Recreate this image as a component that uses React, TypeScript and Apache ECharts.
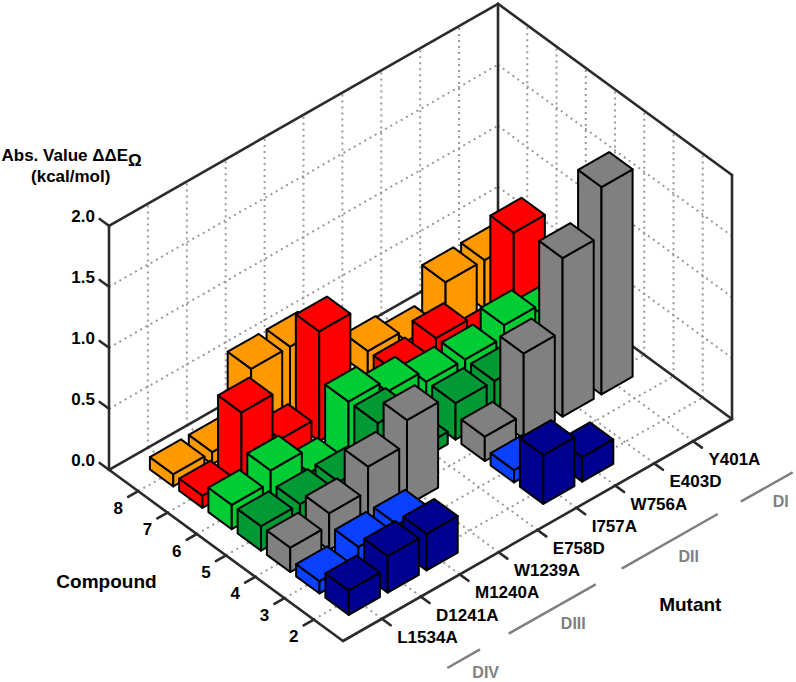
import React, { useEffect, useRef } from "react";
import * as echarts from "echarts";

const mutants = ["L1534A", "D1241A", "M1240A", "W1239A", "E758D", "I757A", "W756A", "E403D", "Y401A"];
const compounds = ["2", "3", "4", "5", "6", "7", "8"];
const zTicks = ["0.0", "0.5", "1.0", "1.5", "2.0"];
const zValues = [0, 0.5, 1, 1.5, 2];

const compound2 = [0.2, 0.3, 0.3, null, null, 0.4, 0.2, null, null];
const compound3 = [0.1, 0.2, 0.2, null, null, 0.1, null, null, null];
const compound4 = [0.2, 0.3, 0.5, 0.7, null, 0.2, 0.7, 1.3, 1.7];
const compound5 = [0.2, 0.2, 0.2, 0.5, 0.1, 0.3, 0.3, null, null];
const compound6 = [0.2, 0.3, 0.1, 0.5, 0.4, 0.3, 0.3, 0.4, 0.3];
const compound7 = [0.1, 0.6, 0.2, 0.9, null, 0.2, 0.3, 0.08, 0.8];
const compound8 = [0.1, 0.1, 0.6, 0.6, null, 0.2, 0.1, 0.4, 0.4];

const compoundValues = [compound2, compound3, compound4, compound5, compound6, compound7, compound8];
const compoundColors = ["#000090", "#0a40ff", "#808080", "#009933", "#00cc33", "#ff0000", "#ff9900"];

const domains = [
  { name: "DI", from: [740.7, 501.7], to: [792.7, 472.3], at: [780.7, 501.7] },
  { name: "DII", from: [621.7, 568.7], to: [717.7, 514], at: [688.7, 556] },
  { name: "DIII", from: [508.7, 633.7], to: [595.7, 584.3], at: [573.3, 623.3] },
  { name: "DIV", from: [447.3, 668], to: [480, 649.3], at: [485.7, 672.7] },
];

// Orthographic projection of (mutant, compound, value) to the page
const ORIGIN = [343, 641];
const MUT = [38.9, -22.2];
const CMP = [-29.25, -21.4];
const UNIT_Z = -122;
const MUT_MAX = mutants.length + 1;
const CMP_MAX = compounds.length + 1;
const BAR = 0.4;

const project = (m: number, k: number, z = 0): number[] => [
  ORIGIN[0] + m * MUT[0] + k * CMP[0],
  ORIGIN[1] + m * MUT[1] + k * CMP[1] + z * UNIT_Z,
];

const FONT = '"Liberation Sans", Arial, sans-serif';
const FRAME = "#2b2b2b";
const DOT = "#999999";

type Seg = { a: number[]; b: number[]; kind: "frame" | "dot" };

function buildSegments(): Seg[] {
  const s: Seg[] = [];
  const zTop = zValues[zValues.length - 1];
  const dot = (a: number[], b: number[]) => s.push({ a, b, kind: "dot" });
  const line = (a: number[], b: number[]) => s.push({ a, b, kind: "frame" });
  mutants.forEach((_, i) => {
    const m = i + 1;
    dot(project(m, 0), project(m, CMP_MAX));
    dot(project(m, CMP_MAX), project(m, CMP_MAX, zTop));
    line(project(m, 0), project(m, -0.3));
  });
  compounds.forEach((_, i) => {
    const k = i + 1;
    dot(project(0, k), project(MUT_MAX, k));
    dot(project(MUT_MAX, k), project(MUT_MAX, k, zTop));
    line(project(0, k), project(-0.26, k));
  });
  zValues.forEach((z) => {
    if (z > 0 && z < zTop) {
      dot(project(0, CMP_MAX, z), project(MUT_MAX, CMP_MAX, z));
      dot(project(MUT_MAX, CMP_MAX, z), project(MUT_MAX, 0, z));
    }
    line(project(0, CMP_MAX, z), project(0, CMP_MAX + 0.32, z));
  });
  line(project(0, 0), project(MUT_MAX, 0));
  line(project(0, 0), project(0, CMP_MAX));
  line(project(0, CMP_MAX), project(MUT_MAX, CMP_MAX));
  line(project(MUT_MAX, 0), project(MUT_MAX, CMP_MAX));
  line(project(0, CMP_MAX), project(0, CMP_MAX, zTop));
  line(project(MUT_MAX, CMP_MAX), project(MUT_MAX, CMP_MAX, zTop));
  line(project(MUT_MAX, 0), project(MUT_MAX, 0, zTop));
  line(project(0, CMP_MAX, zTop), project(MUT_MAX, CMP_MAX, zTop));
  line(project(MUT_MAX, CMP_MAX, zTop), project(MUT_MAX, 0, zTop));
  return s;
}

type Bar = { m: number; k: number; v: number; color: string };

function buildBars(): Bar[] {
  const bars: Bar[] = [];
  for (let k = compounds.length; k >= 1; k--) {
    for (let m = mutants.length; m >= 1; m--) {
      const v = compoundValues[k - 1][m - 1];
      if (v != null) bars.push({ m, k, v, color: compoundColors[k - 1] });
    }
  }
  return bars;
}

const label = (text: string, x: number, y: number, size: number, align = "center", fill = "#000") => ({
  type: "text",
  silent: true,
  style: {
    text,
    x,
    y,
    fill,
    font: `bold ${size}px ${FONT}`,
    textAlign: align,
    textVerticalAlign: "middle",
  },
});

export default function App() {
  const ref = useRef<HTMLDivElement>(null);
  useEffect(() => {
    document.body.style.margin = "0";
    const chart = echarts.init(ref.current!, undefined, { renderer: "svg" });
    const segs = buildSegments();
    const bars = buildBars();

    const graphics: any[] = [];
    mutants.forEach((t, i) => {
      const p = project(i + 1, 0);
      graphics.push(label(t, p[0] + 15.3, p[1] + 18.5, 17, "left"));
    });
    compounds.forEach((t, i) => {
      const p = project(0, i + 1);
      graphics.push(label(t, p[0] - 20, p[1] + 17, 17));
    });
    zTicks.forEach((t, i) => {
      const p = project(0, CMP_MAX, zValues[i]);
      graphics.push(label(t, p[0] - 14, p[1] - 9.5, 17, "right"));
    });
    graphics.push(label("Compound", 106.5, 581, 19));
    graphics.push(label("Mutant", 690.3, 604, 19));
    graphics.push(label("Abs. Value ΔΔE", 1.5, 155, 17, "left"));
    graphics.push(label("Ω", 128, 160, 17, "left"));
    graphics.push(label("(kcal/mol)", 70.7, 176.7, 17));
    domains.forEach((d) => {
      graphics.push({
        type: "line",
        silent: true,
        shape: { x1: d.from[0], y1: d.from[1], x2: d.to[0], y2: d.to[1] },
        style: { stroke: "#808080", lineWidth: 2.5 },
      });
      graphics.push(label(d.name, d.at[0], d.at[1], 16, "center", "#808080"));
    });

    chart.setOption({
      animation: false,
      backgroundColor: "#ffffff",
      graphic: { elements: graphics },
      series: [
        {
          type: "custom",
          coordinateSystem: "none",
          silent: true,
          z: 1,
          data: segs.map((_, i) => [i]),
          renderItem: (params: any) => {
            const s = segs[params.dataIndex];
            return {
              type: "line",
              shape: { x1: s.a[0], y1: s.a[1], x2: s.b[0], y2: s.b[1] },
              style:
                s.kind === "frame"
                  ? { stroke: FRAME, lineWidth: 2.6, lineCap: "round" }
                  : { stroke: DOT, lineWidth: 2, lineDash: [2, 4] },
            };
          },
        },
        {
          type: "custom",
          coordinateSystem: "none",
          silent: true,
          z: 2,
          data: bars.map((b) => [b.m, b.k, b.v]),
          renderItem: (params: any) => {
            const { m, k, v, color } = bars[params.dataIndex];
            const corners = (z: number) => ({
              front: project(m - BAR, k - BAR, z),
              right: project(m + BAR, k - BAR, z),
              back: project(m + BAR, k + BAR, z),
              left: project(m - BAR, k + BAR, z),
            });
            const lo = corners(0);
            const hi = corners(v);
            const style = { fill: color, stroke: "#000", lineWidth: 2, lineJoin: "round" };
            const face = (points: number[][]) => ({ type: "polygon", shape: { points }, style });
            return {
              type: "group",
              children: [
                face([lo.left, lo.front, hi.front, hi.left]),
                face([lo.front, lo.right, hi.right, hi.front]),
                face([hi.front, hi.right, hi.back, hi.left]),
              ],
            };
          },
        },
      ],
    });
    return () => chart.dispose();
  }, []);
  return <div ref={ref} style={{ position: "fixed", left: 0, top: 0, width: 796, height: 682 }} />;
}
